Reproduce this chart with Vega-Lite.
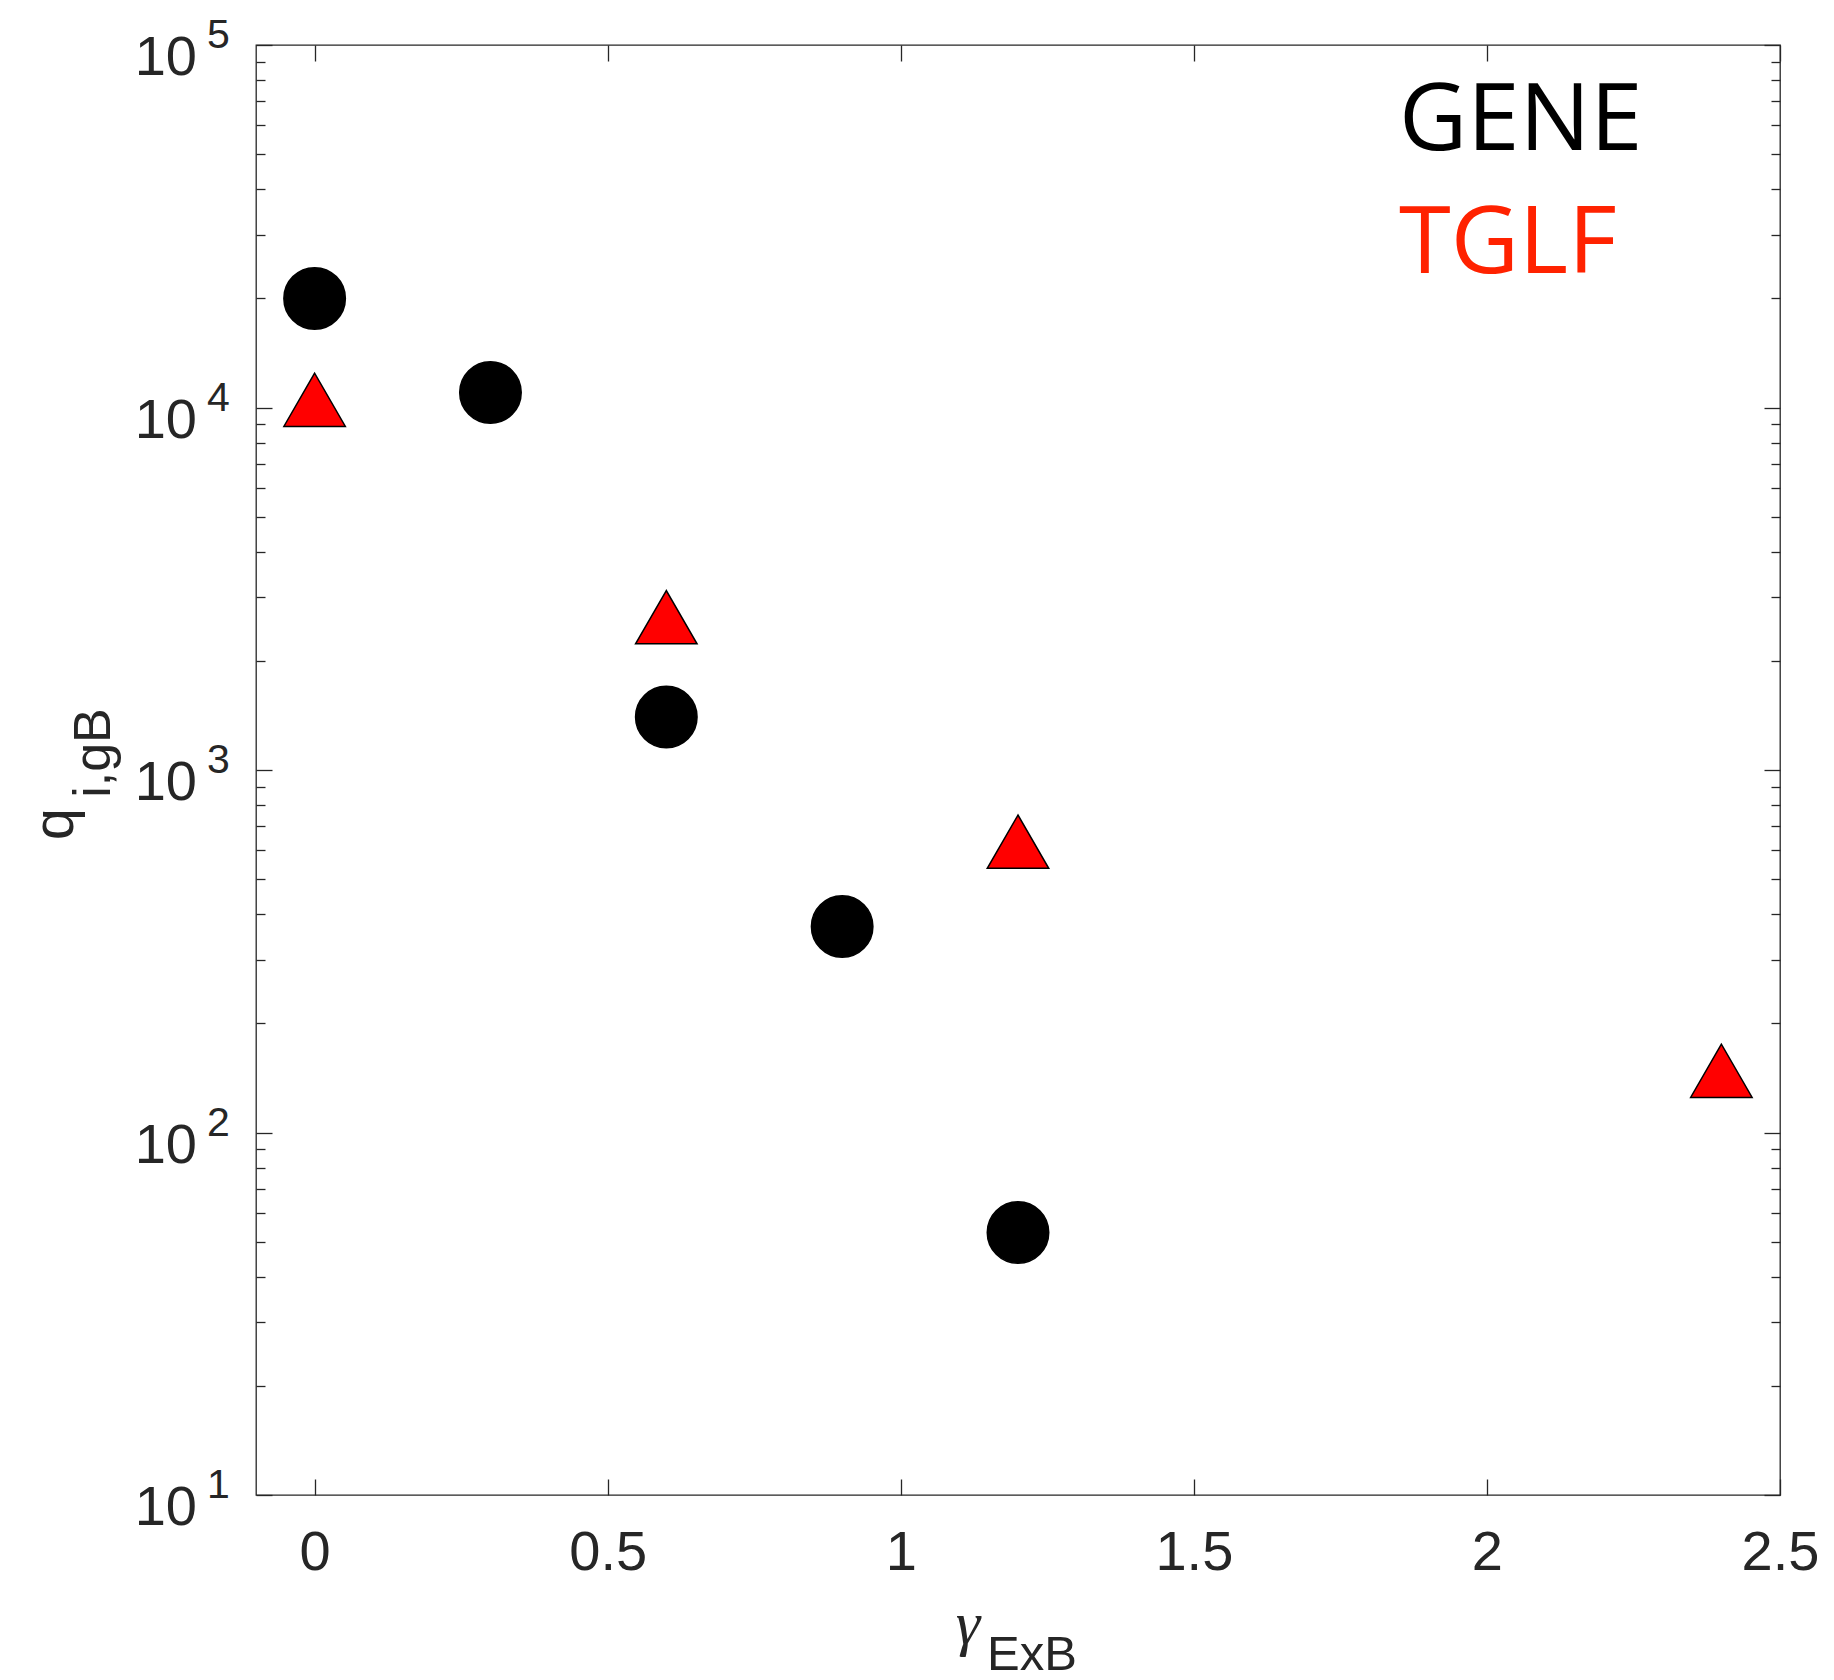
{
  "$schema": "https://vega.github.io/schema/vega-lite/v6.json",
  "width": 1524,
  "height": 1450,
  "autosize": {"type": "none"},
  "padding": {"left": 256, "top": 45, "right": 54, "bottom": 185},
  "background": "white",
  "config": {
    "view": {"stroke": "#262626", "strokeWidth": 1.3},
    "axis": {"domain": false, "grid": false, "tickColor": "#262626", "tickWidth": 1.3}
  },
  "datasets": {
    "points": [
      {"gamma": 0, "q": 20000, "model": "GENE"},
      {"gamma": 0.3, "q": 11000, "model": "GENE"},
      {"gamma": 0.6, "q": 1400, "model": "GENE"},
      {"gamma": 0.9, "q": 370, "model": "GENE"},
      {"gamma": 1.2, "q": 53, "model": "GENE"},
      {"gamma": 0, "q": 10500, "model": "TGLF"},
      {"gamma": 0.6, "q": 2640, "model": "TGLF"},
      {"gamma": 1.2, "q": 634, "model": "TGLF"},
      {"gamma": 2.4, "q": 148, "model": "TGLF"}
    ],
    "decades": [
      {"v": 10, "base": "10", "e": "1"},
      {"v": 100, "base": "10", "e": "2"},
      {"v": 1000, "base": "10", "e": "3"},
      {"v": 10000, "base": "10", "e": "4"},
      {"v": 100000, "base": "10", "e": "5"}
    ]
  },
  "layer": [
    {
      "data": {"name": "points"},
      "mark": {"type": "point", "filled": true, "stroke": "#000000", "strokeWidth": 1.5, "opacity": 1, "size": 3780},
      "encoding": {
        "x": {
          "field": "gamma", "type": "quantitative",
          "scale": {"domain": [-0.1, 2.5], "nice": false, "zero": false},
          "axis": {
            "orient": "bottom", "title": null, "values": [0, 0.5, 1, 1.5, 2, 2.5], "format": "~g",
            "tickSize": -16, "labelFont": "Liberation Sans", "labelFontSize": 56, "labelColor": "#262626",
            "labelBaseline": "alphabetic", "labelPadding": 90, "labelFlush": false, "labelOverlap": false
          }
        },
        "y": {
          "field": "q", "type": "quantitative",
          "scale": {"type": "log", "domain": [10, 100000], "nice": false},
          "axis": {
            "orient": "left", "title": null, "labels": false,
            "values": [10,20,30,40,50,60,70,80,90,100,200,300,400,500,600,700,800,900,1000,2000,3000,4000,5000,6000,7000,8000,9000,10000,20000,30000,40000,50000,60000,70000,80000,90000,100000],
            "tickSize": {"condition": {"test": "indexof([10,100,1000,10000,100000], datum.value) >= 0", "value": -16}, "value": -9}
          }
        },
        "fill": {
          "field": "model", "type": "nominal",
          "scale": {"domain": ["GENE", "TGLF"], "range": ["#000000", "#ff0000"]},
          "legend": {
            "orient": "none", "legendX": 1049, "legendY": 30, "title": null,
            "symbolSize": 0, "symbolOpacity": 0, "symbolStrokeWidth": 0, "labelOffset": 0,
            "labelFont": "Open Sans", "labelFontSize": 94, "labelLimit": 1000, "rowPadding": 29, "padding": 0,
            "labelColor": {"expr": "datum.value === 'TGLF' ? '#ff2200' : '#000000'"}
          }
        },
        "shape": {
          "field": "model", "type": "nominal",
          "scale": {"domain": ["GENE", "TGLF"], "range": ["circle", "triangle-up"]}
        }
      }
    },
    {
      "data": {"name": "points"},
      "mark": {"type": "point", "opacity": 0},
      "encoding": {
        "x": {
          "field": "gamma", "type": "quantitative",
          "axis": {"orient": "top", "title": null, "labels": false, "values": [0, 0.5, 1, 1.5, 2, 2.5], "tickSize": -16}
        },
        "y": {
          "field": "q", "type": "quantitative",
          "axis": {
            "orient": "right", "title": null, "labels": false,
            "values": [10,20,30,40,50,60,70,80,90,100,200,300,400,500,600,700,800,900,1000,2000,3000,4000,5000,6000,7000,8000,9000,10000,20000,30000,40000,50000,60000,70000,80000,90000,100000],
            "tickSize": {"condition": {"test": "indexof([10,100,1000,10000,100000], datum.value) >= 0", "value": -16}, "value": -9}
          }
        }
      }
    },
    {
      "data": {"name": "decades"},
      "mark": {"type": "text", "align": "right", "baseline": "alphabetic", "dx": -59, "dy": 30, "font": "Liberation Sans", "fontSize": 56, "color": "#262626"},
      "encoding": {
        "x": {"datum": -0.1, "type": "quantitative", "axis": null},
        "y": {"field": "v", "type": "quantitative", "axis": null},
        "text": {"field": "base"}
      }
    },
    {
      "data": {"name": "decades"},
      "mark": {"type": "text", "align": "left", "baseline": "alphabetic", "dx": -49, "dy": 3, "font": "Liberation Sans", "fontSize": 41, "color": "#262626"},
      "encoding": {
        "x": {"datum": -0.1, "type": "quantitative", "axis": null},
        "y": {"field": "v", "type": "quantitative", "axis": null},
        "text": {"field": "e"}
      }
    },
    {
      "data": {"values": [{"t": "γ"}]},
      "mark": {"type": "text", "align": "center", "baseline": "alphabetic", "dx": -50, "dy": 149, "font": "Liberation Serif", "fontStyle": "italic", "fontSize": 62, "color": "#262626"},
      "encoding": {
        "x": {"datum": 1.2, "type": "quantitative", "axis": null},
        "y": {"datum": 10, "type": "quantitative", "axis": null},
        "text": {"field": "t"}
      }
    },
    {
      "data": {"values": [{"t": "ExB"}]},
      "mark": {"type": "text", "align": "left", "baseline": "alphabetic", "dx": -31, "dy": 175, "font": "Liberation Sans", "fontSize": 49, "color": "#262626"},
      "encoding": {
        "x": {"datum": 1.2, "type": "quantitative", "axis": null},
        "y": {"datum": 10, "type": "quantitative", "axis": null},
        "text": {"field": "t"}
      }
    },
    {
      "data": {"values": [{"t": "q"}]},
      "mark": {"type": "text", "angle": 270, "align": "center", "baseline": "alphabetic", "dx": -54, "dy": -183, "font": "Liberation Sans", "fontSize": 58, "color": "#262626"},
      "encoding": {
        "x": {"datum": -0.1, "type": "quantitative", "axis": null},
        "y": {"datum": 1000, "type": "quantitative", "axis": null},
        "text": {"field": "t"}
      }
    },
    {
      "data": {"values": [{"t": "i,gB"}]},
      "mark": {"type": "text", "angle": 270, "align": "center", "baseline": "alphabetic", "dx": 17, "dy": -146, "font": "Liberation Sans", "fontSize": 52, "color": "#262626"},
      "encoding": {
        "x": {"datum": -0.1, "type": "quantitative", "axis": null},
        "y": {"datum": 1000, "type": "quantitative", "axis": null},
        "text": {"field": "t"}
      }
    }
  ],
  "resolve": {"axis": {"x": "independent", "y": "independent"}}
}
